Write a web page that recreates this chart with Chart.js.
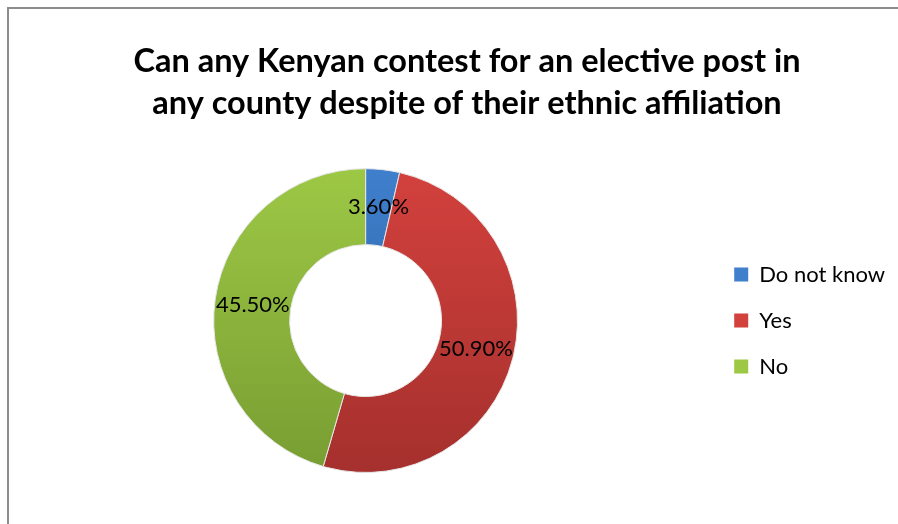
<!DOCTYPE html>
<html>
<head>
<meta charset="utf-8">
<script src="https://cdn.jsdelivr.net/npm/chart.js@4"></script>
<style>
  html, body { margin: 0; padding: 0; background: #fff; overflow: hidden; }
  #wrap { position: relative; width: 898px; height: 524px; }
  #frame { position: absolute; left: 7px; top: 7px; width: 1000px; height: 1000px;
           border-left: 2px solid #8c8c8c; border-top: 2px solid #8c8c8c; }
  canvas { position: absolute; left: 0; top: 0; }
</style>
</head>
<body>
<div id="wrap">
  <div id="frame"></div>
  <canvas id="chart" width="898" height="524"></canvas>
</div>
<script>
const labels = ['Do not know', 'Yes', 'No'];
const shares = [3.6, 50.9, 45.5];
const topColors = ['#3f7fcc', '#d3413d', '#9dc845'];
const bottomColors = ['#2b5f9e', '#a5302d', '#789d32'];
const titleLines = ['Can any Kenyan contest for an elective post in', 'any county despite of their ethnic affiliation'];

const fontFamily = 'Lato, "Open Sans", sans-serif';
// the title is centred on the whole frame, the ring sits further left
const plotShift = 18;

function sliceFill(context) {
  const chart = context.chart;
  const area = chart.chartArea;
  const i = context.dataIndex;
  if (!area) return topColors[i];
  const g = chart.ctx.createLinearGradient(0, area.top, 0, area.bottom);
  g.addColorStop(0, topColors[i]);
  g.addColorStop(1, bottomColors[i]);
  return g;
}

const shiftPlot = {
  id: 'shiftPlot',
  afterLayout(chart) {
    chart.chartArea.left -= plotShift;
    chart.chartArea.width += plotShift;
  }
};

const sliceLabels = {
  id: 'sliceLabels',
  afterDatasetsDraw(chart) {
    const ctx = chart.ctx;
    const meta = chart.getDatasetMeta(0);
    ctx.save();
    ctx.font = '22px ' + fontFamily;
    ctx.fillStyle = '#000';
    ctx.textAlign = 'center';
    ctx.textBaseline = 'middle';
    meta.data.forEach((arc, i) => {
      const p = arc.tooltipPosition();
      ctx.fillText(shares[i].toFixed(2) + '%', p.x, p.y);
    });
    ctx.restore();
  }
};

new Chart(document.getElementById('chart').getContext('2d'), {
  type: 'doughnut',
  data: {
    labels: labels,
    datasets: [{
      data: shares,
      backgroundColor: sliceFill,
      borderColor: '#e6e6e6',
      borderWidth: 1,
      cutout: '50%'
    }]
  },
  options: {
    responsive: false,
    animation: false,
    layout: { padding: { left: 39, right: 3, top: 0, bottom: 51 } },
    plugins: {
      tooltip: { enabled: false },
      title: {
        display: true,
        text: titleLines,
        color: '#000',
        font: { family: fontFamily, size: 32.5, weight: 'bold', lineHeight: 1.28 },
        padding: { top: 41, bottom: 44 }
      },
      legend: {
        position: 'right',
        fullSize: false,
        labels: {
          color: '#000',
          font: { family: fontFamily, size: 22 },
          boxWidth: 14,
          boxHeight: 14,
          padding: 24,
          generateLabels(chart) {
            return labels.map((l, i) => ({
              text: l,
              fillStyle: topColors[i],
              strokeStyle: topColors[i],
              lineWidth: 0,
              index: i
            }));
          }
        }
      }
    }
  },
  plugins: [shiftPlot, sliceLabels]
});
</script>
</body>
</html>
